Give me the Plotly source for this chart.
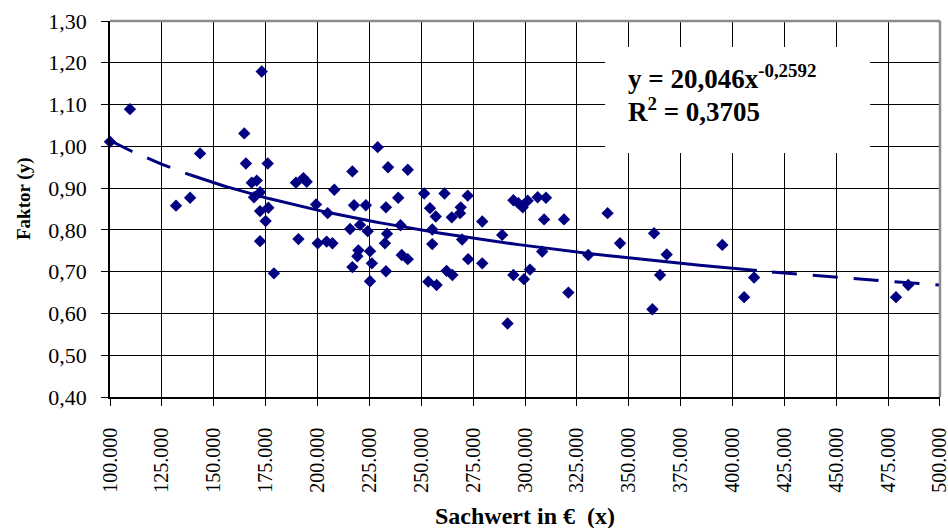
import numpy as np
import plotly.graph_objects as go

# ---- data ----
sachwert = [100000, 109600, 131800, 138600, 143400, 164700, 165500, 168300, 169400, 170700,
            172300, 172300, 172300, 173100, 175000, 176000, 176300, 179000, 189600, 190800,
            193200, 194800, 199300, 200100, 204400, 204900, 207200, 208100, 215700, 216800,
            216800, 217600, 219200, 219700, 220500, 223300, 224200, 225300, 225300, 226200,
            229000, 232500, 233000, 233000, 233500, 234000, 238900, 240000, 240600, 243500,
            243500, 251400, 253400, 254200, 255300, 255300, 257000, 257400, 261200, 262200,
            264700, 265000, 268700, 269000, 269700, 272400, 272600, 279400, 279400, 289000,
            291600, 294400, 294400, 296800, 298900, 299500, 301300, 302400, 306100, 308300,
            309200, 310100, 318800, 320900, 330500, 339800, 345800, 361400, 362200, 365100,
            368300, 395100, 405600, 410400, 478800, 484700]
faktor = [1.011, 1.089, 0.858, 0.877, 0.983, 1.031, 0.959, 0.913, 0.878, 0.918,
          0.890, 0.845, 0.773, 1.179, 0.821, 0.959, 0.853, 0.696, 0.913, 0.778,
          0.924, 0.915, 0.861, 0.768, 0.772, 0.840, 0.768, 0.896, 0.802, 0.940,
          0.711, 0.859, 0.737, 0.751, 0.812, 0.859, 0.797, 0.749, 0.677, 0.720,
          0.998, 0.768, 0.854, 0.701, 0.791, 0.950, 0.877, 0.811, 0.740, 0.944,
          0.730, 0.887, 0.676, 0.852, 0.801, 0.766, 0.832, 0.668, 0.887, 0.702,
          0.830, 0.692, 0.840, 0.854, 0.777, 0.882, 0.730, 0.820, 0.720, 0.788,
          0.576, 0.871, 0.692, 0.864, 0.854, 0.682, 0.870, 0.705, 0.878, 0.748,
          0.825, 0.877, 0.825, 0.650, 0.740, 0.840, 0.768, 0.610, 0.792, 0.692,
          0.741, 0.764, 0.639, 0.686, 0.639, 0.668]

# trend line shown on the chart: y = 20,046 x^-0,2592
trend_a = 20.046
trend_b = -0.2592
trend_solid_range = [138500, 411800]
trend_dash_left = [100000, 138500]
trend_dash_right = [419000, 500000]

x_ticks = [100000 + 25000 * i for i in range(17)]
x_ticktext = ["100.000", "125.000", "150.000", "175.000", "200.000", "225.000", "250.000",
              "275.000", "300.000", "325.000", "350.000", "375.000", "400.000", "425.000",
              "450.000", "475.000", "500.000"]
y_ticks = [0.40, 0.50, 0.60, 0.70, 0.80, 0.90, 1.00, 1.10, 1.20, 1.30]
y_ticktext = ["0,40", "0,50", "0,60", "0,70", "0,80", "0,90", "1,00", "1,10", "1,20", "1,30"]

NAVY = "#000080"
FONT = "Liberation Serif"


def trend(rng, n=60):
    xs = np.linspace(rng[0], rng[1], n)
    return xs, trend_a * xs ** trend_b


fig = go.Figure()

for rng in (trend_dash_left, trend_dash_right):
    tx, ty = trend(rng)
    fig.add_trace(go.Scatter(x=tx, y=ty, mode="lines", showlegend=False, hoverinfo="skip",
                             line=dict(color=NAVY, width=3, dash="25px,16px")))
tx, ty = trend(trend_solid_range, 120)
fig.add_trace(go.Scatter(x=tx, y=ty, mode="lines", showlegend=False, hoverinfo="skip",
                         line=dict(color=NAVY, width=3)))

fig.add_trace(go.Scatter(x=sachwert, y=faktor, mode="markers", showlegend=False,
                         cliponaxis=False,
                         marker=dict(symbol="diamond", size=9.5, color=NAVY, line=dict(width=0))))

# white box behind the equation
fig.add_shape(type="rect", xref="x", yref="y", x0=338600, x1=466300, y0=0.984, y1=1.2378,
              fillcolor="white", line=dict(width=0), layer="above")
# gray frame top / right
fig.add_shape(type="line", xref="paper", yref="paper", x0=0, x1=1, y0=1, y1=1,
              line=dict(color="#8c8c8c", width=2.5), layer="above")
fig.add_shape(type="line", xref="paper", yref="paper", x0=1, x1=1, y0=0, y1=1,
              line=dict(color="#8c8c8c", width=2.5), layer="above")

fig.add_annotation(x=340000, y=1.167, xref="x", yref="y", xanchor="left", yanchor="middle",
                   showarrow=False, text="<b>y = 20,046x<sup>-0,2592</sup></b>",
                   font=dict(family=FONT, size=27, color="black"), xshift=18)
fig.add_annotation(x=340000, y=1.088, xref="x", yref="y", xanchor="left", yanchor="middle",
                   showarrow=False, text="<b>R<sup>2</sup> = 0,3705</b>",
                   font=dict(family=FONT, size=27, color="black"), xshift=18)

# axis titles
fig.add_annotation(x=0.5, y=0, xref="paper", yref="paper", xanchor="center", yanchor="middle",
                   yshift=-119, showarrow=False, text="<b>Sachwert in €  (x)</b>",
                   font=dict(family=FONT, size=24, color="black"))
fig.add_annotation(x=0, y=0.5, xref="paper", yref="paper", xanchor="center", yanchor="middle",
                   xshift=-86, yshift=10, textangle=-90, showarrow=False,
                   text="<b>Faktor (y)</b>", font=dict(family=FONT, size=19, color="black"))

fig.update_layout(
    width=948, height=528,
    margin=dict(l=110, r=8, t=21, b=131, pad=0, autoexpand=False),
    paper_bgcolor="white", plot_bgcolor="white",
    font=dict(family=FONT, color="black"),
    showlegend=False,
)
fig.update_xaxes(range=[99990, 500010], tickvals=x_ticks, ticktext=x_ticktext,
                 tickangle=-90, tickfont=dict(family=FONT, size=20, color="black"),
                 ticklabeloverflow="allow", automargin=False,
                 showgrid=True, gridcolor="black", gridwidth=1.3, zeroline=False,
                 showline=True, linecolor="black", linewidth=1.5,
                 ticks="outside", ticklen=7, tickcolor="black", tickwidth=1.3,
                 ticklabelstandoff=14)
fig.update_yaxes(range=[0.40, 1.30], tickvals=y_ticks, ticktext=y_ticktext,
                 tickfont=dict(family=FONT, size=22, color="black"),
                 ticklabeloverflow="allow", automargin=False,
                 showgrid=True, gridcolor="black", gridwidth=1.3, zeroline=False,
                 showline=True, linecolor="black", linewidth=1.5,
                 ticks="outside", ticklen=7, tickcolor="black", tickwidth=1.3,
                 ticklabelstandoff=10)

fig.write_html("out.html")
